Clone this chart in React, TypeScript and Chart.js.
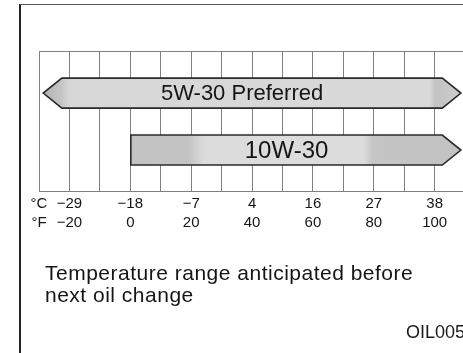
import React, { useEffect, useRef } from 'react';
import { Chart, registerables } from 'chart.js';

Chart.register(...registerables);

// ---- data ----
const categories = ['5W-30 Preferred', '10W-30'];
const bandStartF = [-22.5, 0];
const bandEndF = [102.5, 102.5];
const continuesBelow = [true, false];
const continuesAbove = [true, true];

const tickValuesF = [-30, -20, 0, 20, 40, 60, 80, 100];
const celsiusLabels = ['°C', '−29', '−18', '−7', '4', '16', '27', '38'];
const fahrenheitLabels = ['°F', '−20', '0', '20', '40', '60', '80', '100'];

const captionLines = ['Temperature range anticipated before', 'next oil change'];
const figureCode = 'OIL005';

// ---- styles ----
const FONT = '"Liberation Sans", Arial, Helvetica, sans-serif';
const GRID = '#808080';
const labelFontPx = [22, 24];
const labelShiftPx = [-10, 0];

type Stop = [number, string];
function bandStops(i: number, left: number, x0: number, x1: number, right: number): Stop[] {
  if (i === 0) {
    return [
      [left, '#b2b2b2'],
      [x0, '#c6c6c6'],
      [x0 + 8, '#d7d7d7'],
      [x1 - 13, '#d9d9d9'],
      [x1 - 7, '#c3c3c3'],
      [x1, '#c5c5c5'],
      [right, '#cfcfcf'],
    ];
  }
  return [
    [x0, '#c2c2c2'],
    [x0 + 58, '#c4c4c4'],
    [x0 + 73, '#dcdcdc'],
    [x1 - 78, '#dcdcdc'],
    [x1 - 70, '#c5c5c5'],
    [right, '#c2c2c2'],
  ];
}

const gridTopPlugin = {
  id: 'gridTop',
  beforeDatasetsDraw(chart: any) {
    const { ctx, chartArea } = chart;
    ctx.save();
    ctx.strokeStyle = GRID;
    ctx.lineWidth = 1;
    ctx.beginPath();
    const y = Math.round(chartArea.top) + 0.5;
    ctx.moveTo(chartArea.left, y);
    ctx.lineTo(chartArea.right, y);
    ctx.stroke();
    ctx.restore();
  },
};

const arrowPlugin = {
  id: 'oilArrows',
  afterDatasetsDraw(chart: any) {
    const ctx = chart.ctx as CanvasRenderingContext2D;
    const meta = chart.getDatasetMeta(0);
    meta.data.forEach((el: any, i: number) => {
      const { x, y, base, height } = el.getProps(['x', 'y', 'base', 'height'], true);
      const x0 = Math.min(x, base);
      const x1 = Math.max(x, base);
      const h = height / 2;
      const head = height * 0.62;
      const left = continuesBelow[i] ? x0 - head : x0;
      const right = continuesAbove[i] ? x1 + head : x1;
      ctx.save();
      ctx.beginPath();
      ctx.moveTo(x0, y - h);
      ctx.lineTo(x1, y - h);
      if (continuesAbove[i]) ctx.lineTo(right, y);
      ctx.lineTo(x1, y + h);
      ctx.lineTo(x0, y + h);
      if (continuesBelow[i]) ctx.lineTo(left, y);
      ctx.closePath();
      const g = ctx.createLinearGradient(left, 0, right, 0);
      const span = right - left;
      bandStops(i, left, x0, x1, right).forEach(([px, c]) => {
        g.addColorStop(Math.min(1, Math.max(0, (px - left) / span)), c);
      });
      ctx.fillStyle = g;
      ctx.fill();
      ctx.lineWidth = 1.6;
      ctx.strokeStyle = '#2a2a2a';
      ctx.lineJoin = 'miter';
      ctx.stroke();
      ctx.font = `${labelFontPx[i]}px ${FONT}`;
      ctx.fillStyle = '#151515';
      ctx.textAlign = 'center';
      ctx.textBaseline = 'middle';
      ctx.fillText(categories[i], (x0 + x1) / 2 + labelShiftPx[i], y + 1);
      ctx.restore();
    });
  },
};

export default function App() {
  const canvasRef = useRef<HTMLCanvasElement | null>(null);

  useEffect(() => {
    const canvas = canvasRef.current;
    if (!canvas) return;
    const chart = new Chart(canvas, {
      type: 'bar',
      data: {
        labels: categories,
        datasets: [
          {
            label: 'Oil viscosity range',
            data: categories.map((_, i) => ({ x: [bandStartF[i], bandEndF[i]], y: i })) as any,
            backgroundColor: 'rgba(0,0,0,0)',
            borderWidth: 0,
            barThickness: 30,
          },
        ],
      },
      options: {
        indexAxis: 'y',
        responsive: false,
        animation: false,
        devicePixelRatio: 1,
        layout: { padding: { left: 39, top: 51, right: 0, bottom: 118 } },
        plugins: {
          legend: { display: false },
          tooltip: { enabled: false },
          title: { display: false },
        },
        scales: {
          x: {
            type: 'linear',
            min: -30,
            max: 109.3,
            offset: false,
            grid: { color: GRID, lineWidth: 1, drawTicks: false, offset: false },
            border: { display: true, color: GRID, width: 1 },
            ticks: {
              stepSize: 10,
              includeBounds: false,
              autoSkip: false,
              maxRotation: 0,
              padding: 3,
              color: '#151515',
              font: { family: FONT, size: 15, lineHeight: '19px' } as any,
              callback: (value: any) => {
                const idx = tickValuesF.indexOf(Number(value));
                return idx >= 0 ? [celsiusLabels[idx], fahrenheitLabels[idx]] : '';
              },
            },
          },
          y: {
            type: 'linear',
            min: -0.74,
            max: 1.72,
            reverse: true,
            offset: false,
            grace: 0,
            grid: { offset: false },
            display: false,
          },
        },
      },
      plugins: [gridTopPlugin, arrowPlugin],
    });
    return () => chart.destroy();
  }, []);

  return (
    <div
      style={{
        position: 'absolute',
        left: 0,
        top: 0,
        width: 463,
        height: 353,
        overflow: 'hidden',
        background: '#fff',
        fontFamily: FONT,
      }}
    >
      <div
        style={{
          position: 'absolute',
          left: 19,
          top: 4,
          width: 600,
          height: 600,
          borderLeft: '2px solid #222',
          borderTop: '1.5px solid #555',
          boxSizing: 'border-box',
        }}
      />
      <canvas
        ref={canvasRef}
        width={463}
        height={353}
        style={{ position: 'absolute', left: 0, top: 0, width: 463, height: 353 }}
      />
      <div
        style={{
          position: 'absolute',
          left: 45,
          top: 262,
          fontSize: 21,
          letterSpacing: '0.5px',
          lineHeight: '22px',
          color: '#151515',
          whiteSpace: 'nowrap',
        }}
      >
        {captionLines.map((l) => (
          <div key={l}>{l}</div>
        ))}
      </div>
      <div
        style={{
          position: 'absolute',
          left: 406,
          top: 321,
          fontSize: 18,
          lineHeight: '22px',
          color: '#1a1a1a',
          whiteSpace: 'nowrap',
        }}
      >
        {figureCode}
      </div>
    </div>
  );
}
